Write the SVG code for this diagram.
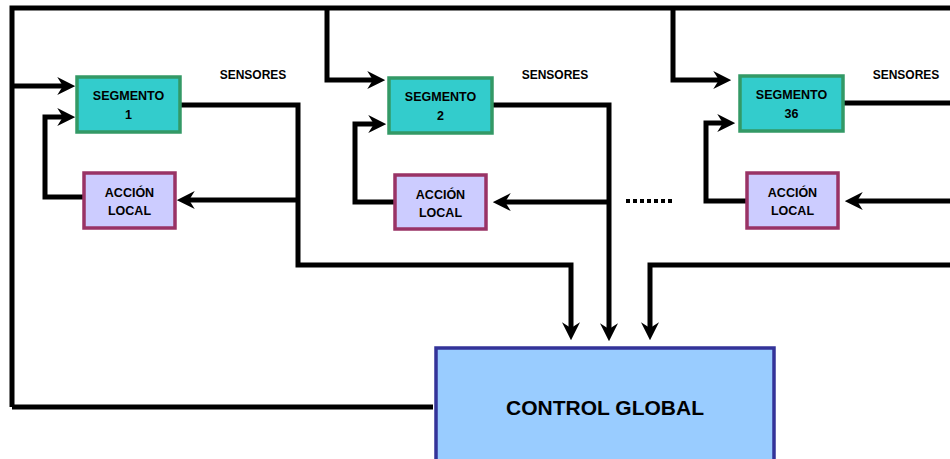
<svg xmlns="http://www.w3.org/2000/svg" width="950" height="459" viewBox="0 0 950 459">
<style>
.seg{fill:#33cccc;stroke:#339966;stroke-width:3.5}
.acc{fill:#ccccff;stroke:#993366;stroke-width:3.5}
.glob{fill:#99ccff;stroke:#333399;stroke-width:3.5}
.c{fill:none;stroke:#000;stroke-width:5;stroke-linejoin:miter}
text{font-family:"Liberation Sans",Arial,sans-serif;font-weight:bold;fill:#000;text-anchor:middle}
.s{font-size:12.5px}
.n{font-size:12px}
.l{font-size:12.5px}
.g{font-size:21px}
</style>
<defs>
<marker id="ah" markerUnits="userSpaceOnUse" markerWidth="18" markerHeight="18" viewBox="0 0 16 16" refX="6" refY="8" orient="auto">
<path d="M0,0 L16,8 L0,16 L5,8 z" fill="#000"/>
</marker>
</defs>
<rect width="950" height="459" fill="#fff"/>
<g id="connectors">
<path class="c" d="M12,407 V8 H950"/>
<path class="c" d="M12,407 H433"/>
<path class="c" d="M12,86 H64" marker-end="url(#ah)"/>
<path class="c" d="M83,197 H45 V117 H64" marker-end="url(#ah)"/>
<path class="c" d="M181,105 H298 V265 H571 V329" marker-end="url(#ah)"/>
<path class="c" d="M298,200 H188" marker-end="url(#ah)"/>
<path class="c" d="M327,8 V80 H374" marker-end="url(#ah)"/>
<path class="c" d="M394,202 H355 V124 H375" marker-end="url(#ah)"/>
<path class="c" d="M493,105 H609 V330" marker-end="url(#ah)"/>
<path class="c" d="M609,202 H504" marker-end="url(#ah)"/>
<path class="c" d="M673,8 V80 H720" marker-end="url(#ah)"/>
<path class="c" d="M746,201 H706 V123 H724" marker-end="url(#ah)"/>
<path class="c" d="M844,103 H950"/>
<path class="c" d="M950,201 H856" marker-end="url(#ah)"/>
<path class="c" d="M950,265 H650 V329" marker-end="url(#ah)"/>
<path d="M626,201 H672" fill="none" stroke="#000" stroke-width="4" stroke-dasharray="4,3"/>
</g>
<g id="seg1"><rect class="seg" x="77" y="77" width="103" height="55"/><text class="s" x="128.5" y="100">SEGMENTO</text><text class="s" x="128.5" y="119">1</text></g>
<g id="acc1"><rect class="acc" x="84" y="173" width="91" height="55"/><text class="l" x="129.5" y="197">ACCIÓN</text><text class="l" x="129.5" y="215">LOCAL</text></g>
<g id="sens1"><text class="n" x="253" y="79">SENSORES</text></g>
<g id="seg2"><rect class="seg" x="389" y="78" width="103" height="55"/><text class="s" x="440.5" y="101">SEGMENTO</text><text class="s" x="440.5" y="120">2</text></g>
<g id="acc2"><rect class="acc" x="395" y="175" width="91" height="54"/><text class="l" x="440.5" y="199">ACCIÓN</text><text class="l" x="440.5" y="217">LOCAL</text></g>
<g id="sens2"><text class="n" x="555" y="79">SENSORES</text></g>
<g id="seg36"><rect class="seg" x="740" y="76" width="103" height="55"/><text class="s" x="791.5" y="99">SEGMENTO</text><text class="s" x="791.5" y="118">36</text></g>
<g id="acc36"><rect class="acc" x="747" y="173" width="91" height="55"/><text class="l" x="792.5" y="197">ACCIÓN</text><text class="l" x="792.5" y="215">LOCAL</text></g>
<g id="sens36"><text class="n" x="906" y="79">SENSORES</text></g>
<g id="global"><rect class="glob" x="436" y="348" width="338" height="120"/><text class="g" x="605" y="415">CONTROL GLOBAL</text></g>
</svg>
